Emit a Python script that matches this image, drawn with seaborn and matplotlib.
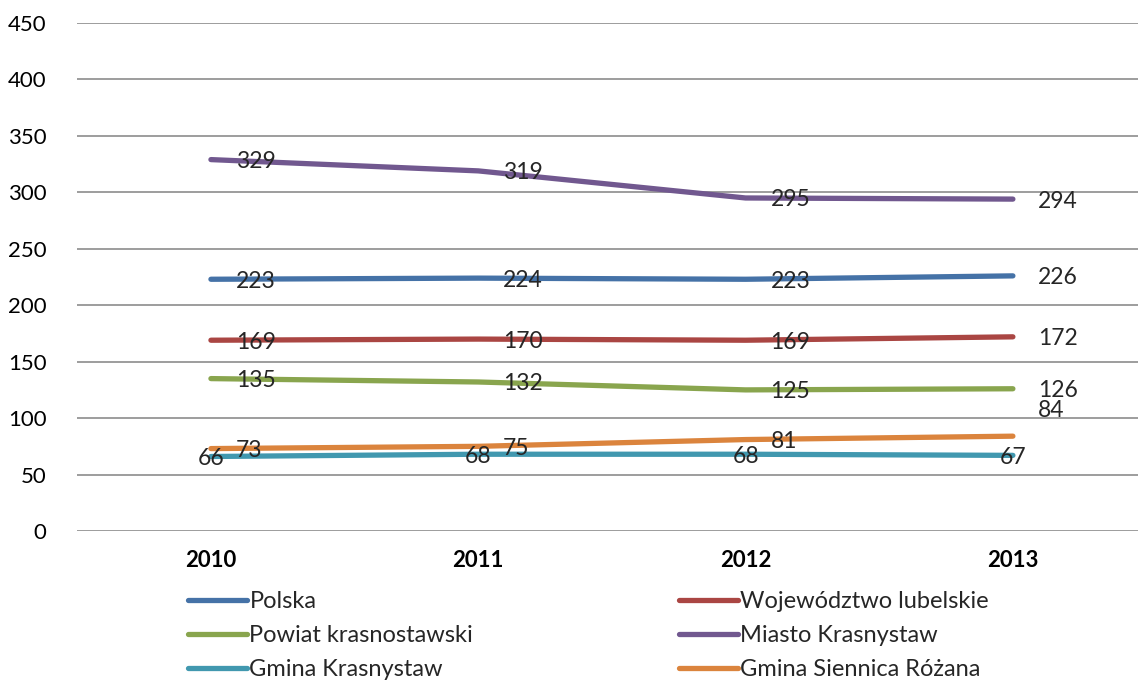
import pandas as pd
import numpy as np
import matplotlib.pyplot as plt
import seaborn as sns

# Data
years = ['2010', '2011', '2012', '2013']
series_names = ['Polska', 'Województwo lubelskie', 'Powiat krasnostawski',
                'Miasto Krasnystaw', 'Gmina Krasnystaw', 'Gmina Siennica Różana']
polska = [223, 224, 223, 226]
wojewodztwo = [169, 170, 169, 172]
powiat = [135, 132, 125, 126]
miasto = [329, 319, 295, 294]
gmina_krasnystaw = [66, 68, 68, 67]
gmina_siennica = [73, 75, 81, 84]

colors = ['#4572A7', '#AA4643', '#89A54E', '#71588F', '#4198AF', '#DB843D']

values = [polska, wojewodztwo, powiat, miasto, gmina_krasnystaw, gmina_siennica]
rows = []
for name, vals in zip(series_names, values):
    for i, v in enumerate(vals):
        rows.append({'pos': i, 'year': years[i], 'value': v, 'series': name})
df = pd.DataFrame(rows)

sns.set_style('white')
plt.rcParams['font.family'] = ['Lato', 'DejaVu Sans']

fig = plt.figure(figsize=(11.38, 6.82), dpi=100)
ax = fig.add_axes([77 / 1138, 1 - 531 / 682, 1 - 77 / 1138, (531 - 23) / 682])

sns.lineplot(data=df, x='pos', y='value', hue='series', hue_order=series_names,
             palette=colors, linewidth=3.8, solid_capstyle='round', ax=ax,
             legend=False, zorder=3)

ax.set_xlim(-0.501, 3.468)
ax.set_ylim(0, 450)
ax.set_yticks(np.arange(0, 451, 50))
ax.set_xticks(range(len(years)))
ax.set_xticklabels(years, fontweight='bold')
ax.tick_params(axis='both', length=0, labelsize=16, colors='black')
ax.tick_params(axis='y', pad=22)
ax.tick_params(axis='x', pad=14)
ax.grid(True, axis='y', color='#8c8c8c', linewidth=1.2)
ax.set_axisbelow(True)
for s in ax.spines.values():
    s.set_visible(False)
ax.set_xlabel('')
ax.set_ylabel('')

# data labels
for name, vals in zip(series_names, values):
    for i, v in enumerate(vals):
        if name == 'Gmina Krasnystaw':
            ax.annotate(str(v), (i, v), xytext=(0, 0), textcoords='offset points',
                        ha='center', va='center_baseline', fontsize=16.5, zorder=5)
        else:
            dy = 20 if (name == 'Gmina Siennica Różana' and i == 3) else 0
            ax.annotate(str(v), (i, v), xytext=(18, dy), textcoords='offset points',
                        ha='left', va='center_baseline', fontsize=16.5, zorder=5)

# legend, row-wise order in two columns
handles = [plt.Line2D([], [], color=c, linewidth=3.8, solid_capstyle='round') for c in colors]
order = [0, 2, 4, 1, 3, 5]
fig.legend([handles[k] for k in order], [series_names[k] for k in order],
           ncol=2, loc='upper left', bbox_to_anchor=(188 / 1138, 1 - 591 / 682),
           frameon=False, fontsize=17, handlelength=2.5, handletextpad=0.1,
           columnspacing=8.7, labelspacing=0.55, borderpad=0, borderaxespad=0)

fig.savefig('out.png', dpi=100)
